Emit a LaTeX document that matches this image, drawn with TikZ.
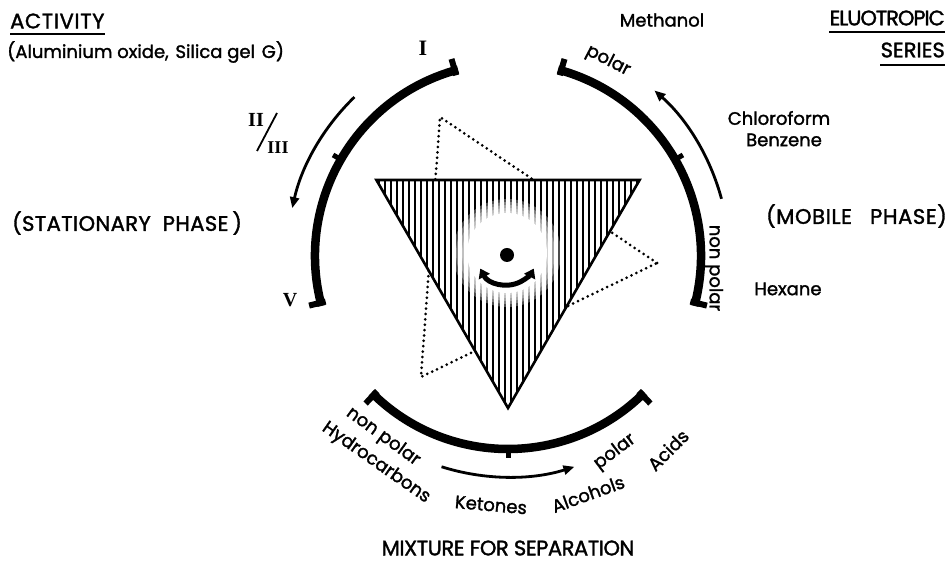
\documentclass[tikz,border=0pt]{standalone}
\usepackage{fontspec}
\setmainfont{Poppins}[FakeBold=1.6]
\newfontfamily\capsfont{Poppins}[FakeBold=1.6]
\newfontfamily\numfont{Liberation Serif}
\usetikzlibrary{arrows.meta}
\tikzset{
  thickarc/.style={line width=8.5pt},
  capbar/.style={line width=6pt},
  midtick/.style={line width=5pt},
  thinarrow/.style={line width=2.8pt,-{Triangle[length=11pt,width=9pt]}},
  lbl/.style={inner sep=0pt,font=\fontsize{18}{21}\selectfont},
  caps/.style={inner sep=0pt,font=\capsfont\addfontfeature{LetterSpace=#1}\fontsize{21}{24}\selectfont},
  roman/.style={inner sep=0pt,font=\numfont\bfseries\fontsize{#1}{24}\selectfont},
  ul/.style={line width=1.8pt},
  hatch/.style={line width=1.35pt},
  dotline/.style={line width=3pt,line cap=round,dash pattern=on 0pt off 5.4pt},
}
\begin{document}
\begin{tikzpicture}[x=1pt,y=1pt]
\useasboundingbox (0,0) rectangle (950,572);
\coordinate (C) at (508,316);
\coordinate (D) at (507,319);

% dotted rotated triangle (behind)
\coordinate (P1) at (657,309);
\coordinate (P2) at (440,455);
\coordinate (P3) at (421,195);
\draw[dotline] (P1) -- (P2) -- (P3) -- cycle;

% hatched triangle
\coordinate (T1) at (376.4,392);
\coordinate (T2) at (639.6,392);
\coordinate (T3) at (508,164);
\fill[white] (T1) -- (T2) -- (T3) -- cycle;
\begin{scope}
  \clip (T1) -- (T2) -- (T3) -- cycle;
  \foreach \x in {379,385,...,640} \draw[hatch] (\x,160) -- (\x,396);
  \fill[white] (D) circle (40);
  \foreach \r in {42,45,...,54} \fill[white,opacity=0.3] (D) circle (\r);
\end{scope}
\draw[line width=2.6pt,line join=miter] (T1) -- (T2) -- (T3) -- cycle;

% centre dot and double arrow
\fill (507,317) circle (7);
\draw[line width=5pt,{Triangle[length=9pt,width=12pt]}-{Triangle[length=9pt,width=12pt]}]
  ([shift={(207:30)}]507,317) arc[start angle=207,end angle=333,radius=30];

% thick arcs
\draw[thickarc] ([shift={(105:193)}]C) arc[start angle=105,end angle=195,radius=193];
\draw[thickarc] ([shift={(-15:193)}]C) arc[start angle=-15,end angle=75,radius=193];
\draw[thickarc] ([shift={(225:193)}]C) arc[start angle=225,end angle=315,radius=193];
% end caps
\foreach \a in {106,194,-14,74,226,314}
  \draw[capbar] ([shift={(\a:188)}]C) -- ([shift={(\a:205)}]C);
% middle ticks
\foreach \a in {150,30,270}
  \draw[midtick] ([shift={(\a:195)}]C) -- ([shift={(\a:202)}]C);

% thin arrows
\draw[thinarrow] ([shift={(134:221)}]C) arc[start angle=134,end angle=167.5,radius=221];
\draw[thinarrow] ([shift={(15:221)}]C) arc[start angle=15,end angle=48.5,radius=221];
\draw[thinarrow] ([shift={(252.5:221)}]C) arc[start angle=252.5,end angle=287.5,radius=221];

% roman numerals
\node[roman=22] (r1) at (423,524) {I};
\node[roman=20] (r2) at (256,452) {II};
\node[roman=18] (r3) at (278,424) {III};
\coordinate (s1) at (277,459);
\coordinate (s2) at (257,421);
\draw[line width=1.8pt] (s1) -- (s2);
\node[roman=20] (r5) at (290,272) {V};

% left texts
\node[caps=3,anchor=west] (act) at (10,551) {ACTIVITY};
\draw[ul] ([yshift=-5pt]act.south west) -- ([yshift=-5pt]act.south east);
\node[lbl,anchor=west] (alu) at (7,520) {(Aluminium oxide,\hspace{2pt} Silica gel\hspace{2pt} G)};
\node[caps=2,anchor=west] (stat) at (12,349) {(STATIONARY\hspace{6pt} PHASE\hspace{4pt})};

% right texts
\node[lbl] (meth) at (662,552) {Methanol};
\node[caps=-5,anchor=east] (elu) at (945,554) {ELUOTROPIC};
\draw[ul] ([yshift=-6pt]elu.south west) -- ([yshift=-6pt]elu.south east);
\node[caps=0,anchor=east] (ser) at (945,522) {SERIES};
\draw[ul] ([yshift=-7pt]ser.south west) -- ([yshift=-7pt]ser.south east);
\node[lbl,rotate=-27] (ptop) at (608,511) {polar};
\node[lbl] (chl) at (779,454) {Chloroform};
\node[lbl] (ben) at (784,432) {Benzene};
\node[lbl,rotate=-90] (npr) at (714,304) {non polar};
\node[lbl] (hex) at (788,283) {Hexane};
\node[caps=3,anchor=east] (mob) at (947,356) {(MOBILE\hspace{12pt} PHASE)};

% bottom texts
\node[lbl,rotate=-36] (npb) at (383,135) {non polar};
\node[lbl,rotate=-35] (hyd) at (376,109) {Hydrocarbons};
\node[lbl,rotate=-5] (ket) at (491,67) {Ketones};
\node[lbl,rotate=20] (alc) at (588,78) {Alcohols};
\node[lbl,rotate=37] (pbot) at (615,120) {polar};
\node[lbl,rotate=45] (aci) at (668,122) {Acids};
\node[caps=-2] (mix) at (508,24) {MIXTURE FOR SEPARATION};
\end{tikzpicture}
\end{document}
